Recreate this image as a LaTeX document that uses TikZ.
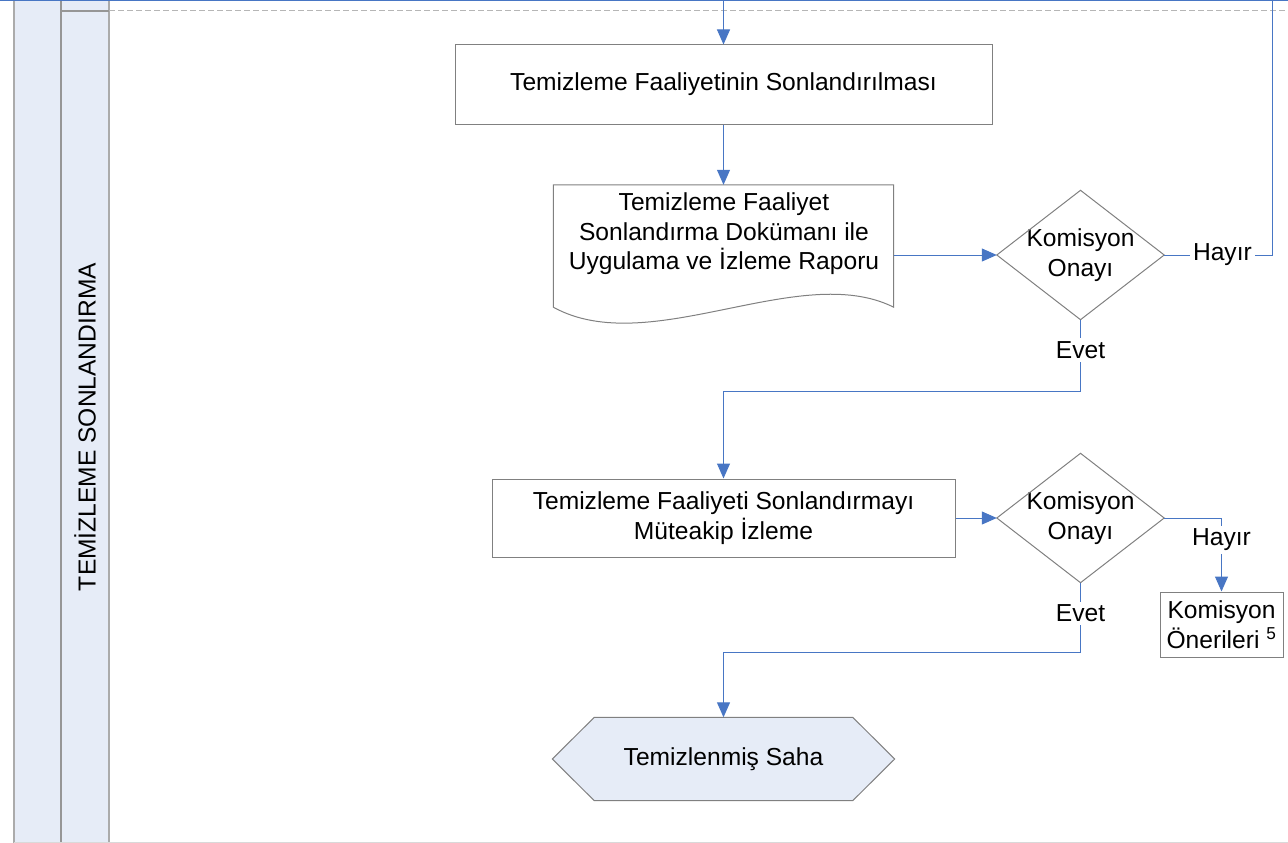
\documentclass[tikz,border=0pt]{standalone}
\usepackage{fontspec}
\setmainfont{Liberation Sans}
\usetikzlibrary{arrows.meta,calc}
\definecolor{conn}{RGB}{72,118,196}
\definecolor{lane}{RGB}{230,236,247}
\definecolor{boxline}{RGB}{128,128,128}
\definecolor{laneline}{RGB}{150,150,150}
\tikzset{
 txt/.style={font=\fontsize{24.6}{29.5}\selectfont, text=black, align=center},
 procbox/.style={txt, draw=boxline, line width=1pt, rectangle, inner sep=0pt},
 area/.style={txt, rectangle, inner sep=0pt, draw=none},
 outline/.style={draw=boxline, line width=1pt},
 flow/.style={draw=conn, line width=1pt},
 arr/.style={flow, -{Triangle[length=15pt,width=13pt]}},
 lbl/.style={txt, fill=white, inner sep=3pt},
}
\begin{document}
\begin{tikzpicture}[x=1pt,y=-1pt]
\useasboundingbox (0,0) rectangle (1288,843);
% lanes
\fill[lane] (14,0) rectangle (109,843);
\draw[laneline!80, line width=2pt] (14,0) -- (14,843);
\draw[laneline, line width=2pt] (61,0) -- (61,843);
\draw[laneline!80, line width=2pt] (109,0) -- (109,843);
\draw[laneline, line width=1.5pt] (61,11) -- (109,11);
\draw[laneline!70, line width=1pt, dash pattern=on 6pt off 3pt] (109,11) -- (1288,11);
\draw[conn, line width=1.5pt] (0,0.5) -- (1288,0.5);
\draw[gray!30, line width=1pt] (14,842.5) -- (1288,842.5);
\node[txt, rotate=90] (lanelbl) at (85,427) {TEMİZLEME SONLANDIRMA};

% nodes
\node[procbox, minimum width=537pt, minimum height=79pt] (box1) at (723.5,84.5) {Temizleme Faaliyetinin Sonlandırılması};

\node[area, minimum width=340pt, minimum height=140pt] (doc) at (723.5,255) {};
\draw[outline, fill=white] (doc.north west) -- (doc.north east) -- ($(doc.south east)+(0,-18)$)
  .. controls ($(doc.south)+(76,-65)$) and ($(doc.south)+(-74,35)$) .. ($(doc.south west)+(0,-18)$) -- cycle;
\node[txt] (doctext) at (724,234) {Temizleme Faaliyet\\Sonlandırma Dokümanı ile\\Uygulama ve İzleme Raporu};

\node[area, minimum width=167pt, minimum height=129pt] (d1) at (1080.5,255) {Komisyon\\Onayı};
\draw[outline] (d1.north) -- (d1.east) -- (d1.south) -- (d1.west) -- cycle;

\node[procbox, minimum width=463pt, minimum height=78pt] (box2) at (723.5,518) {Temizleme Faaliyeti Sonlandırmayı\\Müteakip İzleme};

\node[area, minimum width=167pt, minimum height=129pt] (d2) at (1080.5,518) {Komisyon\\Onayı};
\draw[outline] (d2.north) -- (d2.east) -- (d2.south) -- (d2.west) -- cycle;

\node[procbox, minimum width=123pt, minimum height=65pt] (box3) at (1221.5,624.5) {Komisyon\\Önerileri \textsuperscript{5}};

\node[area, minimum width=342pt, minimum height=83pt] (hex) at (723.5,759) {};
\draw[outline, fill=lane] (hex.west) -- ($(hex.north west)+(42,0)$) -- ($(hex.north east)+(-42,0)$) -- (hex.east)
  -- ($(hex.south east)+(-42,0)$) -- ($(hex.south west)+(42,0)$) -- cycle;
\node[txt] (hextext) at (723.5,759) {Temizlenmiş Saha};

% connectors
\coordinate (topin) at (723.5,0);
\coordinate (topout) at (1272,0);
\draw[arr] (topin) -- (box1.north);
\draw[arr] (box1.south) -- (doc.north);
\draw[arr] (doc.east) -- (d1.west);
\draw[flow] (d1.east) -- node[lbl, pos=0.54] {Hayır} (d1.east -| topout) -- (topout);
\draw[arr] (d1.south) -- node[lbl, pos=0.42] {Evet} ++(0,72) -| (box2.north);
\draw[arr] (box2.east) -- (d2.west);
\draw[arr] (d2.east) -| node[lbl, pos=0.65] {Hayır} (box3.north);
\draw[arr] (d2.south) -- node[lbl, pos=0.44] {Evet} ++(0,70) -| (hex.north);
\end{tikzpicture}
\end{document}
